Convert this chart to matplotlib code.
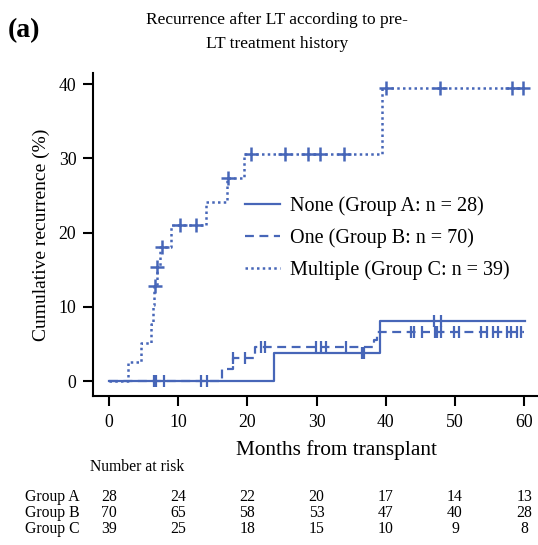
import matplotlib
matplotlib.use("Agg")
import matplotlib.pyplot as plt
from matplotlib.lines import Line2D
from matplotlib import transforms

plt.rcParams["font.family"] = ["Liberation Serif", "DejaVu Serif"]

# Step curves (months, cumulative recurrence %)
a_time = [0, 23.8, 39.1, 60.1]
a_rec = [0, 3.8, 8.1, 8.1]
b_time = [0, 16.4, 17.9, 21.1, 38.3, 38.8, 60.0]
b_rec = [0, 1.6, 3.1, 4.6, 5.6, 6.6, 6.6]
c_time = [0, 2.8, 4.7, 6.1, 6.3, 6.5, 6.9, 7.4, 9.0, 14.0, 17.0, 19.5, 39.5, 60.0]
c_rec = [0, 2.6, 5.1, 7.7, 10.3, 12.8, 15.4, 18.0, 21.0, 24.1, 27.3, 30.6, 39.5, 39.5]

# Censored observations
a_cens_t = [6.5, 6.8, 8.0, 13.3, 14.2, 36.6, 36.9, 47.0, 48.0]
a_cens_y = [0, 0, 0, 0, 0, 3.8, 3.8, 8.1, 8.1]
b_cens_t = [18.0, 19.6, 22.0, 22.5, 29.9, 30.7, 31.4, 34.3,
            43.6, 44.1, 45.2, 47.1, 47.4, 48.0, 49.9, 50.6, 53.8, 54.7,
            55.5, 56.2, 57.5, 58.1, 59.0, 59.6]
b_cens_y = [3.1, 3.1, 4.6, 4.6, 4.6, 4.6, 4.6, 4.6] + [6.6] * 16
c_cens_t = [6.7, 7.0, 7.7, 10.2, 12.6, 17.2, 20.5, 25.4, 28.8, 30.5, 33.9,
            40.0, 47.9, 58.3, 59.9]
c_cens_y = [12.8, 15.4, 18.0, 21.0, 21.0, 27.3, 30.6, 30.6, 30.6, 30.6, 30.6,
            39.5, 39.5, 39.5, 39.5]

# Number at risk
risk_times = [0, 10, 20, 30, 40, 50, 60]
risk_a = [28, 24, 22, 20, 17, 14, 13]
risk_b = [70, 65, 58, 53, 47, 40, 28]
risk_c = [39, 25, 18, 15, 10, 9, 8]

labels = ["None (Group A: n = 28)", "One (Group B: n = 70)", "Multiple (Group C: n = 39)"]
color = "#4766b8"

W, H = 538, 545
fig = plt.figure(figsize=(W / 100, H / 100), dpi=100)
ax = fig.add_axes([93 / W, 1 - 396 / H, (538 - 93) / W, (396 - 73) / H])

ax.step(a_time, a_rec, where="post", color=color, lw=1.6, ls="-")
ax.step(b_time, b_rec, where="post", color=color, lw=1.6, ls=(0, (4, 2.5)))
ax.step(c_time, c_rec, where="post", color=color, lw=1.8, ls=(0, (1, 1.3)))

ax.plot(a_cens_t, a_cens_y, ls="none", marker="|", ms=8, mew=1.6, color=color)
ax.plot(b_cens_t, b_cens_y, ls="none", marker="|", ms=8, mew=1.6, color=color)
ax.plot(c_cens_t, c_cens_y, ls="none", marker="+", ms=10, mew=1.8, color=color)

ax.set_xlim(-2.3, 62.0)
ax.set_ylim(-2.0, 41.5)
ax.set_xticks(range(0, 61, 10))
ax.set_yticks(range(0, 41, 10))
ax.spines["top"].set_visible(False)
ax.spines["right"].set_visible(False)
ax.spines["left"].set_linewidth(1.5)
ax.spines["bottom"].set_linewidth(1.5)
ax.tick_params(direction="out", length=7, width=1.5, labelsize=12.8)
ax.tick_params(axis="x", pad=6)
ax.tick_params(axis="y", pad=5)

ax.set_ylabel("Cumulative recurrence (%)", fontsize=14, labelpad=6)
ax.set_xlabel("Months from transplant", fontsize=15.3)
ax.xaxis.set_label_coords((336 - 93) / (538 - 93), -0.137)

handles = [
    Line2D([], [], color=color, lw=1.6, ls="-"),
    Line2D([], [], color=color, lw=1.6, ls=(0, (4, 2.5))),
    Line2D([], [], color=color, lw=1.8, ls=(0, (1, 1.3))),
]
ax.legend(handles, labels, frameon=False, fontsize=14.5, loc="upper left",
          bbox_to_anchor=((237 - 93) / (538 - 93), 1 - (188 - 73) / (396 - 73)),
          handlelength=1.75, handletextpad=0.5, labelspacing=0.62, borderaxespad=0)

fig.text(277 / W, 1 - 32 / H, "Recurrence after LT according to pre-\nLT treatment history",
         ha="center", va="center", fontsize=12.5, linespacing=1.75)
fig.text(8 / W, 1 - 31 / H, "(a)", fontsize=20, fontweight="bold", va="center", ha="left")

# Number at risk table
trans = transforms.blended_transform_factory(ax.transData, fig.transFigure)
fig.text(90 / W, 1 - 467 / H, "Number at risk", fontsize=11.3, va="center", ha="left")
for row_y, name, counts in [(497, "Group A", risk_a), (513, "Group B", risk_b), (529, "Group C", risk_c)]:
    fig.text(25 / W, 1 - row_y / H, name, fontsize=11.3, va="center", ha="left")
    for t, n in zip(risk_times, counts):
        ax.text(t, 1 - row_y / H, str(n), transform=trans, fontsize=11.3,
                va="center", ha="center", clip_on=False)

fig.savefig("out.png", dpi=100)
